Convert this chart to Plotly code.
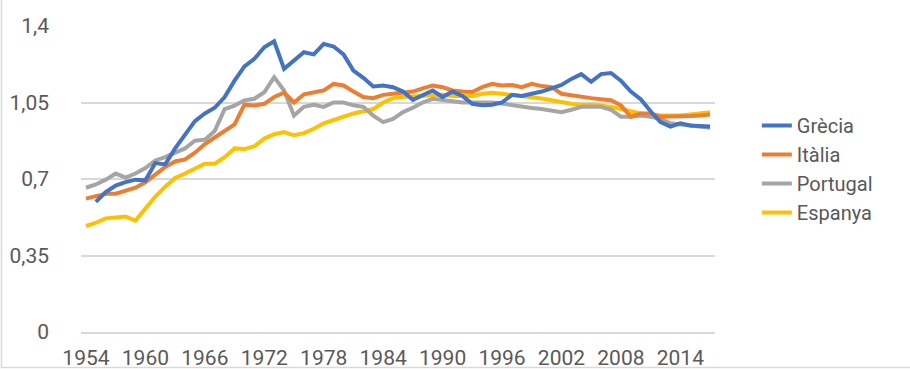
import plotly.graph_objects as go

years = list(range(1954, 2018))

grecia = [None, 0.595, 0.64, 0.67, 0.686, 0.697, 0.694, 0.773, 0.767, 0.84,
          0.90, 0.965, 1.00, 1.026, 1.075, 1.15, 1.215, 1.25, 1.303, 1.33,
          1.204, 1.24, 1.28, 1.27, 1.318, 1.306, 1.27, 1.196, 1.163, 1.123,
          1.128, 1.12, 1.10, 1.062, 1.082, 1.105, 1.075, 1.10, 1.08, 1.044,
          1.037, 1.04, 1.05, 1.085, 1.08, 1.09, 1.10, 1.115, 1.13, 1.158,
          1.18, 1.145, 1.18, 1.185, 1.15, 1.10, 1.065, 1.01, 0.96, 0.94,
          0.955, 0.945, 0.942, 0.94]

italia = [0.61, 0.62, 0.633, 0.633, 0.645, 0.66, 0.685, 0.72, 0.755, 0.78,
          0.79, 0.82, 0.86, 0.89, 0.92, 0.95, 1.04, 1.036, 1.044, 1.075,
          1.095, 1.05, 1.087, 1.095, 1.105, 1.135, 1.128, 1.10, 1.075, 1.07,
          1.085, 1.09, 1.095, 1.10, 1.115, 1.128, 1.12, 1.105, 1.10, 1.098,
          1.12, 1.135, 1.128, 1.13, 1.12, 1.135, 1.125, 1.12, 1.09, 1.082,
          1.078, 1.07, 1.065, 1.06, 1.037, 0.985, 1.0, 1.0, 0.985, 0.985,
          0.985, 0.988, 0.99, 0.995]

portugal = [0.66, 0.675, 0.697, 0.725, 0.706, 0.725, 0.75, 0.785, 0.80, 0.82,
            0.84, 0.875, 0.88, 0.92, 1.02, 1.036, 1.06, 1.067, 1.097, 1.166,
            1.105, 0.99, 1.03, 1.04, 1.03, 1.05, 1.05, 1.037, 1.03, 0.99,
            0.96, 0.975, 1.006, 1.026, 1.05, 1.067, 1.06, 1.055, 1.05, 1.05,
            1.05, 1.05, 1.045, 1.037, 1.03, 1.025, 1.02, 1.015, 1.006, 1.017,
            1.03, 1.03, 1.03, 1.017, 0.985, 0.985, 0.99, 0.985, 0.975, 0.955,
            0.95, 0.945, 0.94, 0.935]

espanya = [0.485, 0.50, 0.52, 0.525, 0.528, 0.51, 0.565, 0.62, 0.665, 0.705,
           0.725, 0.745, 0.77, 0.77, 0.80, 0.84, 0.837, 0.85, 0.885, 0.905,
           0.915, 0.90, 0.91, 0.93, 0.955, 0.97, 0.985, 1.00, 1.01, 1.02,
           1.05, 1.07, 1.075, 1.078, 1.08, 1.085, 1.085, 1.08, 1.08, 1.08,
           1.09, 1.095, 1.09, 1.085, 1.08, 1.075, 1.068, 1.06, 1.05, 1.044,
           1.04, 1.04, 1.035, 1.03, 1.02, 1.01, 1.0, 0.995, 0.99, 0.99,
           0.99, 0.995, 1.0, 1.006]

series_names = ["Grècia", "Itàlia", "Portugal", "Espanya"]
series_values = [grecia, italia, portugal, espanya]
series_colors = ["#4472C4", "#ED7D31", "#A5A5A5", "#FFC000"]

x_ticks = list(range(1954, 2015, 6))
y_ticks = [0, 0.35, 0.7, 1.05, 1.4]
y_tick_text = ["0", "0,35", "0,7", "1,05", "1,4"]

fig = go.Figure()
# draw in reverse so that Grècia sits on top, keep legend order via legendrank
for i in reversed(range(len(series_names))):
    fig.add_trace(go.Scatter(
        x=years, y=series_values[i], mode="lines", name=series_names[i],
        line=dict(color=series_colors[i], width=4),
        legendrank=i + 1, connectgaps=False,
    ))

font_family = "Roboto"
fig.update_layout(
    width=910, height=370,
    margin=dict(l=81, r=195, t=26, b=38),
    paper_bgcolor="white", plot_bgcolor="white",
    font=dict(family=font_family, size=21, color="#595959"),
    showlegend=True,
    legend=dict(x=1.066, y=0.533, xanchor="left", yanchor="middle",
                font=dict(size=20, color="#595959"),
                tracegroupgap=0, itemwidth=30, bgcolor="rgba(0,0,0,0)"),
    xaxis=dict(range=[1953.5, 2017.5], tickmode="array", tickvals=x_ticks,
               showgrid=False, zeroline=False, showline=True,
               linecolor="#D9D9D9", linewidth=1.5, ticks="",
               ticklabelstandoff=6, automargin=False,
               tickfont=dict(size=21, color="#595959")),
    yaxis=dict(range=[0, 1.4], tickmode="array", tickvals=y_ticks,
               ticktext=y_tick_text, showgrid=True, gridcolor="#D9D9D9",
               gridwidth=1.5, zeroline=False, showline=False, ticks="",
               ticklabelstandoff=31, automargin=False,
               tickfont=dict(size=21, color="#595959")),
    shapes=[
        dict(type="line", xref="paper", yref="paper",
             x0=(1.5 - 81) / 634, x1=(1.5 - 81) / 634,
             y0=(332 - 368) / 306, y1=(332 - 0) / 306,
             line=dict(color="#D9D9D9", width=1.5)),
        dict(type="line", xref="paper", yref="paper",
             x0=(1.5 - 81) / 634, x1=(910 - 81) / 634,
             y0=(332 - 367.5) / 306, y1=(332 - 367.5) / 306,
             line=dict(color="#D9D9D9", width=1.5)),
    ],
)

fig.write_html("out.html", config={"displayModeBar": False},
               post_script="document.body.style.margin='0';")
